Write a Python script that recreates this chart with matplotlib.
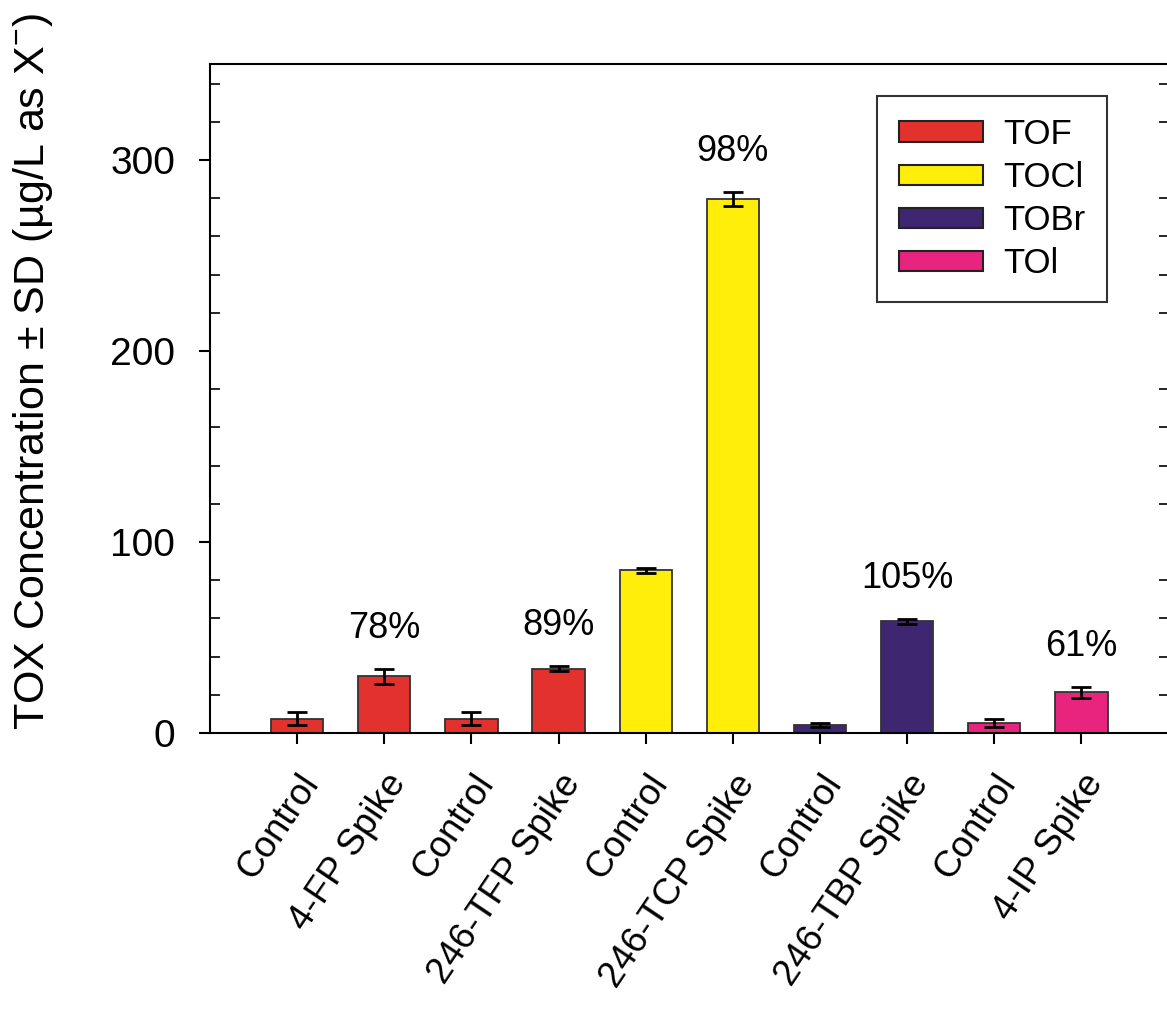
import numpy as np
import matplotlib.pyplot as plt
from matplotlib.patches import Patch
from matplotlib.ticker import MultipleLocator

plt.rcParams['font.family'] = ['Liberation Sans', 'DejaVu Sans']
plt.rcParams['mathtext.fontset'] = 'custom'
plt.rcParams['mathtext.rm'] = 'Liberation Sans'

# sample names along the x axis
samples = ['Control', '4-FP Spike', 'Control', '246-TFP Spike', 'Control',
           '246-TCP Spike', 'Control', '246-TBP Spike', 'Control', '4-IP Spike']
# TOX means and standard deviations (ug/L as X-)
tox = [7.6, 29.6, 7.6, 33.7, 85.3, 279.6, 4.2, 58.5, 5.2, 21.3]
sd = [3.2, 3.9, 3.2, 1.2, 1.3, 3.5, 1.2, 1.2, 2.0, 2.8]
# halogen group of each bar
group = ['TOF', 'TOF', 'TOF', 'TOF', 'TOCl', 'TOCl', 'TOBr', 'TOBr', 'TOI', 'TOI']
groups = ['TOF', 'TOCl', 'TOBr', 'TOI']
colors = {'TOF': '#E3312D', 'TOCl': '#FFEE0A', 'TOBr': '#3F2670', 'TOI': '#E8247F'}
legend_names = ['TOF', 'TOCl', 'TOBr', 'TOl']
# recovery of spiked samples
recovery = {1: '78%', 3: '89%', 5: '98%', 7: '105%', 9: '61%'}

fig = plt.figure(figsize=(11.67, 10.15), dpi=100)
ax = fig.add_axes([0.18, 0.2778, 0.8213, 0.6587])

x = np.arange(len(samples))
ax.bar(x, tox, width=0.6, color=[colors[g] for g in group],
       edgecolor='#333333', linewidth=1.3, zorder=2)
ax.errorbar(x, tox, yerr=sd, fmt='none', ecolor='black', elinewidth=2,
            capsize=7.5, capthick=2, zorder=3)

for i, txt in recovery.items():
    ax.text(x[i], tox[i] + sd[i] + 12, txt, ha='center', va='bottom', fontsize=26)

ax.set_xlim(-1, 10)
ax.set_ylim(0, 350)
ax.set_xticks(x)
ax.set_xticklabels(samples, rotation=56, ha='right', va='top',
                   rotation_mode='anchor', fontsize=26.5)
ax.yaxis.set_major_locator(MultipleLocator(100))
ax.yaxis.set_minor_locator(MultipleLocator(20))
ax.tick_params(axis='y', which='major', direction='out', length=8, width=1.5,
               labelsize=28, pad=17, right=True)
ax.tick_params(axis='y', which='minor', direction='in', length=7, width=1.2, right=True)
ax.tick_params(axis='x', which='major', direction='out', length=8, width=1.5, pad=17)
for s in ax.spines.values():
    s.set_linewidth(1.5)

fig.text(0.028, 0.634, 'TOX Concentration \u00b1 SD (\u00b5g/L as X$^{-}$)',
         rotation=90, ha='center', va='center', fontsize=31)

handles = [Patch(facecolor=colors[g], edgecolor='#222222', linewidth=1.5) for g in groups]
leg = ax.legend(handles, legend_names, loc='upper right',
                bbox_to_anchor=(1107 / 1167, (1015 - 96) / 1015),
                bbox_transform=fig.transFigure, fontsize=25, frameon=True,
                fancybox=False, edgecolor='black', handlelength=2.42,
                handleheight=0.52, handletextpad=0.58, labelspacing=0.29,
                borderpad=0.63, borderaxespad=0)
leg.get_frame().set_linewidth(1.5)

fig.savefig('out.png', dpi=100)
